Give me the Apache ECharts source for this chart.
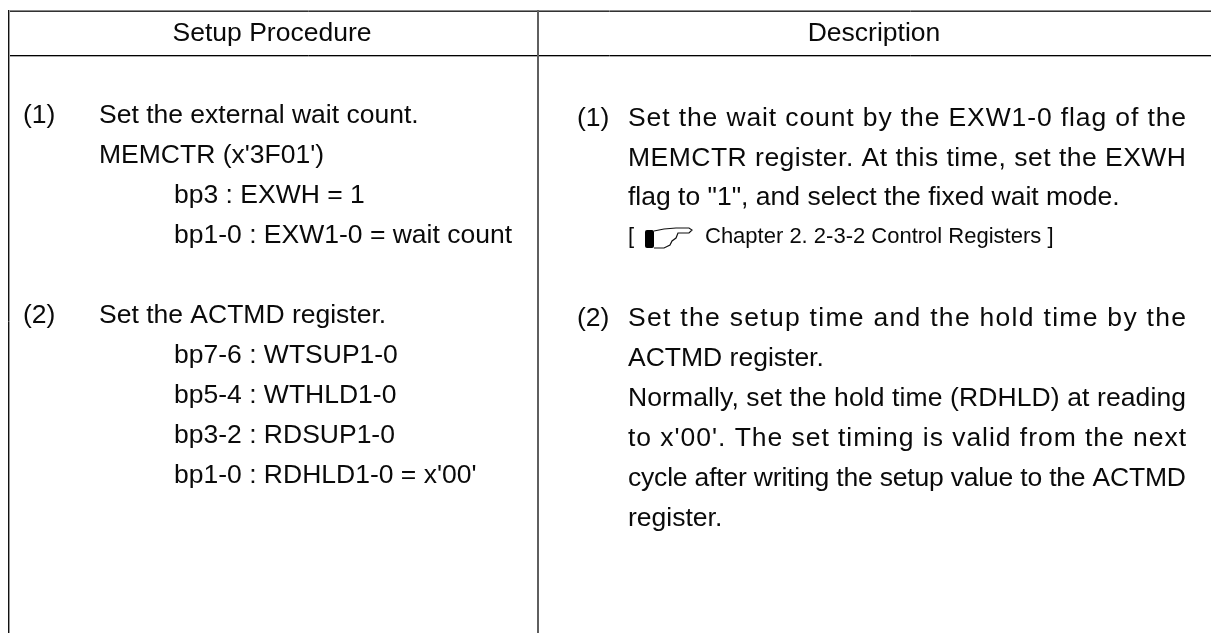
<!DOCTYPE html>
<html><head><meta charset="utf-8">
<style>html,body{margin:0;padding:0;background:#fff}#c{width:1211px;height:633px}</style>
<script src="https://cdn.jsdelivr.net/npm/echarts@6/dist/echarts.min.js"></script>
</head><body><div id="c"></div>
<script>
const headers = ["Setup Procedure", "Description"];
const leftNumbers = ["(1)", "(2)"];
const leftLines = [
  "Set the external wait count.",
  "MEMCTR (x'3F01')",
  "bp3 : EXWH = 1",
  "bp1-0 : EXW1-0 = wait count",
  "Set the ACTMD register.",
  "bp7-6 : WTSUP1-0",
  "bp5-4 : WTHLD1-0",
  "bp3-2 : RDSUP1-0",
  "bp1-0 : RDHLD1-0 = x'00'"
];
const rightNumbers = ["(1)", "(2)"];
const rightLines = [
  "Set the wait count by the EXW1-0 flag of the",
  "MEMCTR register. At this time, set the EXWH",
  "flag to \"1\", and select the fixed wait mode.",
  "Set the setup time and the hold time by the",
  "ACTMD register.",
  "Normally, set the hold time (RDHLD) at reading",
  "to x'00'. The set timing is valid from the next",
  "cycle after writing the setup value to the ACTMD",
  "register."
];
const crossRef = ["[", "Chapter 2. 2-3-2 Control Registers ]"];

const leftNumberBase = [125, 325];
const leftBase = [125, 165, 205, 245, 325, 365, 405, 445, 485];
const leftIndent = [99, 99, 174, 174, 99, 174, 174, 174, 174];
const rightNumberBase = [128, 328];
const rightBase = [128, 168, 207, 328, 368, 408, 448, 488, 528];
const rightJustified = [1, 1, 0, 1, 0, 1, 1, 1, 0];

const font = '"Liberation Sans", Arial, sans-serif';
const BODY = 26.5, SMALL = 22, RIGHT_EDGE = 1186;
const measure = document.createElement('canvas').getContext('2d');
function width(s, size){ measure.font = size + 'px ' + font; return measure.measureText(s).width; }

// Justified lines carry letter spacing, applied when the library paints the line.
const spacing = new Map();
rightLines.forEach((s,i)=>{
  if (rightJustified[i]) spacing.set(s, (RIGHT_EDGE - 628 - width(s, BODY)) / (s.length - 1));
});
const proto = CanvasRenderingContext2D.prototype, rawFill = proto.fillText;
proto.fillText = function(s, x, y, m){
  const sp = spacing.get(s);
  if (sp === undefined) return m === undefined ? rawFill.call(this, s, x, y) : rawFill.call(this, s, x, y, m);
  this.save();
  this.letterSpacing = sp + 'px';
  rawFill.call(this, s, x, y);
  this.restore();
  const f = this.font;
  this.font = '10px sans-serif';
  this.font = f;
};

function txt(s, x, base, size, align){
  return {type:'text', x:x, y:base - 0.35*size,
    style:{text:s, x:0, y:0, fill:'#0a0a0a', font:size+'px '+font, textAlign:align||'left', textVerticalAlign:'middle'}};
}
const ln = (x1,y1,x2,y2,w,c)=>({type:'line', shape:{x1,y1,x2,y2}, style:{stroke:c,lineWidth:w}});
const els = [
  ln(8,10.5,1211,10.5,1,'#888'), ln(8,11.5,1211,11.5,1,'#333'),
  ln(8,55.5,1211,55.5,1,'#000'), ln(8,56.5,1211,56.5,1,'#aaa'),
  ln(8.5,10,8.5,633,1,'#111'), ln(9.5,10,9.5,633,1,'#999'),
  ln(538,10,538,633,2,'#5f5f5f')
];
els.push(txt(headers[0],272,43,BODY,'center'), txt(headers[1],874,43,BODY,'center'));
leftNumbers.forEach((s,i)=>els.push(txt(s,23,leftNumberBase[i],BODY)));
leftLines.forEach((s,i)=>els.push(txt(s,leftIndent[i],leftBase[i],BODY)));
rightNumbers.forEach((s,i)=>els.push(txt(s,577,rightNumberBase[i],BODY)));
rightLines.forEach((s,i)=>els.push(txt(s,628,rightBase[i],BODY)));
els.push(txt(crossRef[0],628,245,SMALL), txt(crossRef[1],705,245,SMALL));
// pointing-hand glyph
els.push({type:'rect', shape:{x:645,y:230,width:9,height:18,r:2}, style:{fill:'#000'}});
els.push({type:'polyline', shape:{points:[[654,231],[664,229],[676,228],[689,228],[692,230],[689,233],[678,233],[676,238],[672,241],[670,245],[664,248],[654,248]]},
  style:{fill:'none',stroke:'#111',lineWidth:1.2}});
const chart = echarts.init(document.getElementById('c'), null, {renderer:'canvas'});
chart.setOption({animation:false, graphic:{elements:els}});
</script></body></html>
